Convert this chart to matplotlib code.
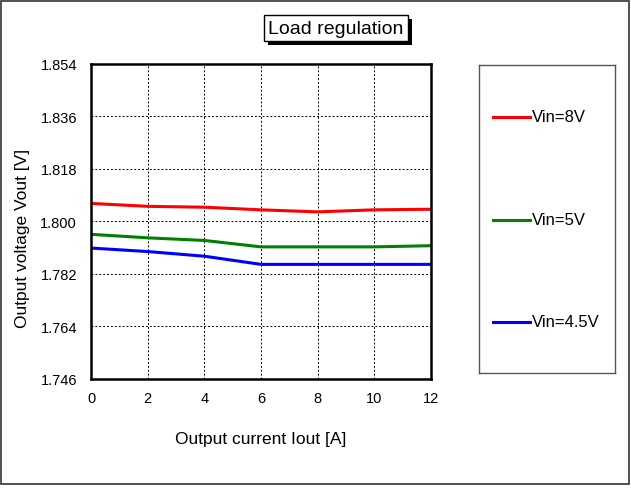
import matplotlib.pyplot as plt
import matplotlib.patheffects as pe
from matplotlib.patches import Rectangle
from matplotlib.lines import Line2D

plt.rcParams['font.family'] = ['Liberation Sans', 'DejaVu Sans']

# data
iout = [0, 2, 4, 6, 8, 10, 12]
vin8 = [1.8062, 1.8052, 1.8049, 1.8040, 1.8033, 1.8040, 1.8042]
vin5 = [1.7956, 1.7944, 1.7935, 1.7913, 1.7913, 1.7913, 1.7917]
vin45 = [1.7909, 1.7897, 1.7881, 1.7853, 1.7853, 1.7853, 1.7853]
yticks = [1.746, 1.764, 1.782, 1.800, 1.818, 1.836, 1.854]
labels = ['Vin=8V', 'Vin=5V', 'Vin=4.5V']
colors = ['#ff0000', '#008000', '#0000ff']

fig = plt.figure(figsize=(6.31, 4.89), dpi=100)

# outer frame
fig.patches.append(Rectangle((1 / 631, 4 / 489), 628 / 631, 483 / 489,
                             transform=fig.transFigure, fill=False,
                             edgecolor='#333333', linewidth=1.2))

ax = fig.add_axes([91 / 631, 1 - 380 / 489, 340 / 631, 315 / 489])
for y, c in zip([vin8, vin5, vin45], colors):
    ax.plot(iout, y, color=c, linewidth=2.2)

ax.set_xlim(0, 12)
ax.set_ylim(1.746, 1.854)
ax.set_xticks(iout)
ax.set_yticks(yticks)
ax.set_yticklabels([f'{v:.3f}' for v in yticks])
ax.tick_params(length=0, labelsize=10.5)
ax.tick_params(axis='y', pad=10)
ax.tick_params(axis='x', pad=9)
ax.grid(True, color='black', linestyle=(0, (2, 2)), linewidth=0.7)
for s in ax.spines.values():
    s.set_linewidth(1.8)
ax.set_xlabel('Output current Iout [A]', fontsize=12.5)
ax.set_ylabel('Output voltage Vout [V]', fontsize=12.5)
ax.xaxis.set_label_coords(0.5, -0.165)
ax.yaxis.set_label_coords(-0.18, 0.45)

# title box with shadow
t = fig.text(336 / 631, 1 - 29 / 489, 'Load regulation', fontsize=14,
             ha='center', va='center',
             bbox=dict(boxstyle='square,pad=0.22', facecolor='white',
                       edgecolor='black', linewidth=1.0))
t.get_bbox_patch().set_path_effects([
    pe.withSimplePatchShadow(offset=(3, -3), shadow_rgbFace='black', alpha=1)])

# legend panel
lax = fig.add_axes([479 / 631, 1 - 374 / 489, 136 / 631, 308 / 489])
lax.set_xlim(0, 136)
lax.set_ylim(308, 0)
lax.set_xticks([])
lax.set_yticks([])
for s in lax.spines.values():
    s.set_edgecolor('#555555')
    s.set_linewidth(1.0)
for i, (lab, c) in enumerate(zip(labels, colors)):
    yy = 52 + i * 102.5
    lax.add_line(Line2D([14, 51], [yy, yy], color=c, linewidth=2.2))
    lax.text(53, yy, lab, fontsize=12, va='center', ha='left')

fig.savefig('out.png', dpi=100)
